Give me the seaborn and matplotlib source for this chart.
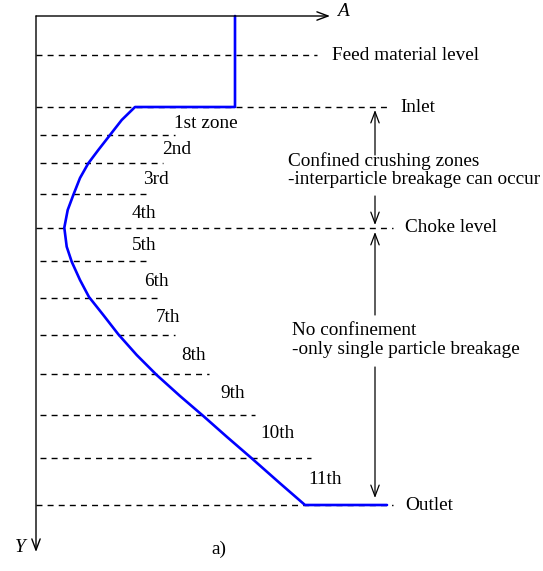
import matplotlib
matplotlib.use("Agg")
import matplotlib.pyplot as plt
import seaborn as sns
import pandas as pd

sns.set_style("white")
plt.rcParams['font.family'] = ['Liberation Serif', 'DejaVu Serif']
plt.rcParams['text.color'] = 'black'

# ---- data (diagram coordinates, depth increases downward) ----
# blue cross-section profile of the crusher
profile_x = [235, 235, 135, 121.7, 110, 98.3, 88.3, 80, 73.3, 67.7, 64.3, 66.7, 71.7,
             80, 89, 103.3, 118.3, 136.7, 156.7, 180, 203.3, 226.7, 251.7, 280, 305, 387]
profile_y = [16, 107, 107, 120, 135, 150, 163.3, 178, 195, 210, 227.7, 246.7, 261.7,
             280, 297, 315, 334.3, 355, 375, 396, 416, 436.7, 458.3, 483.3, 505, 505]

# level lines
level_names = ["Feed material level", "Inlet", "Choke level", "Outlet"]
level_y = [55, 107, 228, 505]
level_end = [317, 387, 393, 393]
level_label_x = [332, 400, 405, 405]

# zone boundaries
zone_y = [135, 163, 194, 261, 298, 335, 374, 415, 458]
zone_end = [175, 163, 150, 150, 157, 175, 209, 255, 311]

zone_labels = ["1st zone", "2nd", "3rd", "4th", "5th", "6th", "7th", "8th", "9th", "10th", "11th"]
zone_label_x = [206, 177, 156, 144, 144, 156, 168, 194, 233, 277, 325]
zone_label_y = [123, 150, 179, 213, 245, 281, 317, 355, 394, 434, 479]

FS = 13.9
W, H = 543, 571
fig = plt.figure(figsize=(W / 100, H / 100), dpi=100)
ax = fig.add_axes([0, 0, 1, 1])

dash = (0, (4.3, 3.7))
ax.hlines(level_y, 36, level_end, colors="black", linestyles=dash, lw=1.0, zorder=1)
ax.hlines(zone_y, 40, zone_end, colors="black", linestyles=dash, lw=1.0, zorder=1)

df = pd.DataFrame({"x": profile_x, "y": profile_y})
sns.lineplot(data=df, x="x", y="y", sort=False, estimator=None, color="#0000ff",
             lw=1.9, ax=ax, zorder=3)
ax.set_xlim(0, W)
ax.set_ylim(H, 0)
ax.axis("off")

ap = dict(arrowstyle="->,head_length=0.8,head_width=0.3", color="black", lw=1.0,
          shrinkA=0, shrinkB=0)
ax.annotate("", xy=(330, 16), xytext=(36, 16), arrowprops=ap)
ax.annotate("", xy=(36, 552), xytext=(36, 16), arrowprops=ap)
ax.text(337, 11, "A", fontsize=FS, style="italic", ha="left", va="center", color="black")
ax.text(20, 547, "Y", fontsize=FS, style="italic", ha="center", va="center", color="black")
ax.text(219, 549, "a)", fontsize=FS, ha="center", va="center", color="black")

for name, y, x in zip(level_names, level_y, level_label_x):
    ax.text(x, y, name, fontsize=FS, ha="left", va="center", color="black")

for lab, x, y in zip(zone_labels, zone_label_x, zone_label_y):
    ax.text(x, y, lab, fontsize=FS, ha="center", va="center", color="black")

ap2 = dict(arrowstyle="->,head_length=0.8,head_width=0.3", color="black", lw=0.9,
           shrinkA=0, shrinkB=0)
ax.annotate("", xy=(375, 110), xytext=(375, 155), arrowprops=ap2)
ax.annotate("", xy=(375, 225), xytext=(375, 196), arrowprops=ap2)
ax.annotate("", xy=(375, 232), xytext=(375, 315), arrowprops=ap2)
ax.annotate("", xy=(375, 498), xytext=(375, 367), arrowprops=ap2)

ax.text(288, 170, "Confined crushing zones\n-interparticle breakage can occur",
        fontsize=FS, ha="left", va="center", linespacing=1.12, color="black")
ax.text(292, 340, "No confinement\n-only single particle breakage",
        fontsize=FS, ha="left", va="center", linespacing=1.12, color="black")

fig.savefig("out.png", dpi=100)
